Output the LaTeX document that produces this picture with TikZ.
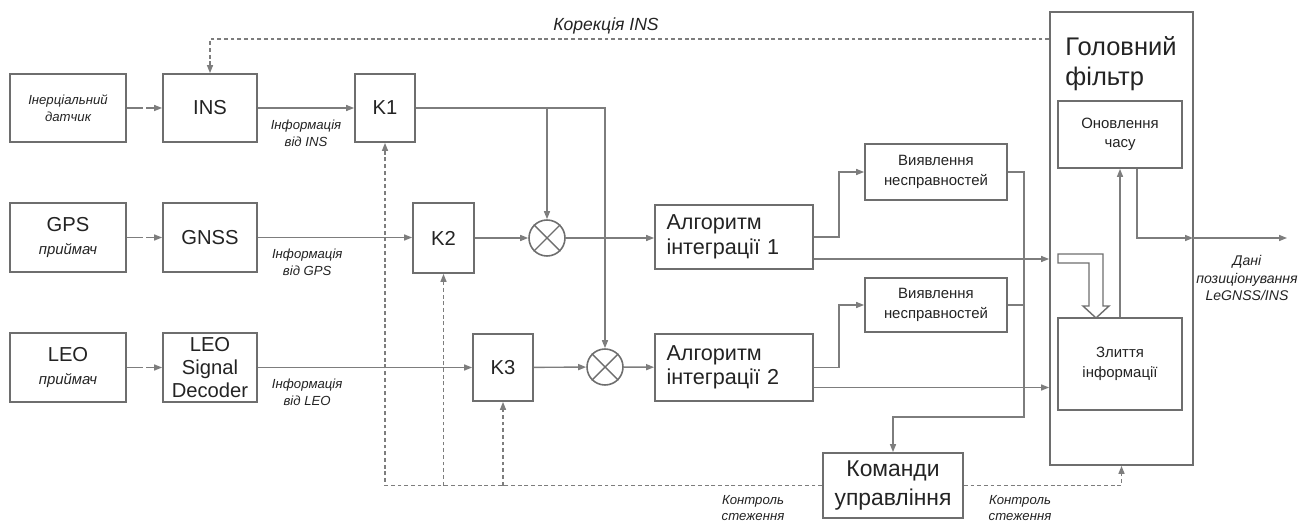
\documentclass[tikz,border=0pt]{standalone}
\usepackage{fontspec}
\setmainfont{Liberation Sans}
\usetikzlibrary{arrows.meta,calc}
\definecolor{ln}{RGB}{125,125,125}
\definecolor{bx}{RGB}{110,110,110}
\definecolor{tx}{RGB}{35,35,35}
\tikzset{
    blk/.style={rectangle, draw=bx, line width=1pt, text=tx, align=center, inner sep=1pt, font=\fontsize{11.5}{13}\selectfont},
    sblk/.style={blk, font=\fontsize{8.5}{11}\selectfont},
    mix/.style={circle, draw=bx, line width=0.9pt, minimum size=7.2mm, inner sep=0pt},
    flow/.style={draw=ln, line width=0.8pt, -{Triangle[length=1.6mm,width=1.2mm]}},
    feed/.style={flow, dash pattern=on 9pt off 2pt},
    ctrl/.style={flow, dash pattern=on 2.2pt off 1.6pt},
    lbl/.style={font=\fontsize{7.5}{9.5}\selectfont\itshape, text=tx, align=center}
}

\begin{document}
\begin{tikzpicture}[x=0.2mm, y=-0.2mm]
    \useasboundingbox (0,0) rectangle (1312,522);

    \node[blk, minimum width=23.2mm, minimum height=13.6mm, font=\fontsize{7.5}{9.6}\selectfont\itshape] (sens) at (68,108) {Інерціальний\\датчик};
    \node[blk, minimum width=18.8mm, minimum height=13.6mm] (ins) at (210,108) {INS};
    \node[blk, minimum width=12mm, minimum height=13.6mm] (k1) at (385,108) {K1};

    \node[blk, minimum width=23.2mm, minimum height=13.8mm] (gps) at (68,237.5) {GPS\\\fontsize{8.5}{11}\selectfont\itshape приймач};
    \node[blk, minimum width=18.8mm, minimum height=13.8mm] (gnss) at (210,237.5) {GNSS};
    \node[blk, minimum width=12.2mm, minimum height=14mm] (k2) at (443.5,238) {K2};

    \node[blk, minimum width=23.2mm, minimum height=13.8mm] (leo) at (68,367.5) {LEO\\\fontsize{8.5}{11}\selectfont\itshape приймач};
    \node[blk, minimum width=18.8mm, minimum height=13.8mm] (dec) at (210,367.5) {LEO\\Signal\\Decoder};
    \node[blk, minimum width=12mm, minimum height=13.4mm] (k3) at (503,367.5) {K3};

    \node[mix] (m1) at (547,238) {};
    \node[mix] (m2) at (605,367) {};
    \foreach \m in {m1,m2}
        \draw[bx, line width=0.8pt] (\m.north west) -- (\m.south east) (\m.north east) -- (\m.south west);

    \node[blk, minimum width=31.6mm, minimum height=12.8mm, text width=27mm, align=left, font=\fontsize{12.3}{14}\selectfont] (alg1) at (734,237) {Алгоритм\\інтеграції 1};
    \node[blk, minimum width=31.6mm, minimum height=13.4mm, text width=27mm, align=left, font=\fontsize{12.3}{14}\selectfont] (alg2) at (734,367.5) {Алгоритм\\інтеграції 2};
    \node[sblk, minimum width=28.4mm, minimum height=11.2mm] (fd1) at (936,172) {Виявлення\\несправностей};
    \node[sblk, minimum width=28.4mm, minimum height=10.8mm] (fd2) at (936,305) {Виявлення\\несправностей};
    \node[blk, minimum width=28mm, minimum height=13mm, font=\fontsize{13}{16}\selectfont] (cmd) at (893,485.5) {Команди\\управління};

    \node[blk, minimum width=28.6mm, minimum height=90.6mm] (main) at (1121.5,238.5) {};
    \node[font=\fontsize{14.5}{17}\selectfont, text=tx, align=left] (mtitle) at (1121,64) {Головний\\фільтр};
    \node[sblk, minimum width=24.8mm, minimum height=13.4mm] (upd) at (1120,134.5) {Оновлення\\часу};
    \node[sblk, minimum width=24.8mm, minimum height=18.4mm] (fuse) at (1120,364) {Злиття\\інформації};

    \draw[feed] (sens) -- (ins);
    \draw[feed] (gps) -- (gnss);
    \draw[feed] (leo) -- (dec);
    \draw[flow] (ins) -- node[lbl, below=3pt] {Інформація\\від INS} (k1);
    \draw[flow] (gnss.east) -- node[lbl, pos=0.32, below=3pt] {Інформація\\від GPS} (gnss.east -| k2.west);
    \draw[flow] (dec) -- node[lbl, pos=0.23, below=3pt] {Інформація\\від LEO} (k3);

    \draw[flow] (k1.east) -| (m2.north);
    \draw[flow] (k1.east -| m1.north) -- (m1.north);
    \draw[flow] (k2.east) -- (k2.east -| m1.west);
    \draw[flow] (m1.east) -- (m1.east -| alg1.west);
    \draw[flow] (k3) -- (m2);
    \draw[flow] (m2) -- (alg2);

    \draw[flow] (alg1.east) -- ++(25,0) |- (fd1.west);
    \draw[flow] (alg2.east) -- ++(25,0) |- (fd2.west);
    \draw[flow] ($(alg1.east)+(0,22)$) coordinate (a1) -- (a1 -| main.west);
    \draw[flow] ($(alg2.east)+(0,20)$) coordinate (a2) -- (a2 -| main.west);
    \draw[flow] (fd1.east) -- ++(16,0) -- ++(0,245) -| (cmd.north);
    \draw[draw=ln, line width=0.8pt] (fd2.east) -- ++(16,0);

    \draw[bx, line width=0.8pt, fill=white] (1058,254) -- (1103,254) -- (1103,306) -- (1109,306) -- (1096,318) -- (1083,306) -- (1089,306) -- (1089,263) -- (1058,263) -- cycle;
    \draw[flow] (fuse.north) -- (upd.south);
    \coordinate (mout) at (1193,238);
    \coordinate (pos) at (1287,238);
    \draw[flow] ([xshift=3.4mm]upd.south) |- (mout);
    \draw[flow] (mout) -- (pos);
    \node[lbl, font=\fontsize{8}{10}\selectfont\itshape] (poslbl) at (1247,278) {Дані\\позиціонування\\LeGNSS/INS};

    \draw[ctrl] ($(main.north west)+(0,28)$) coordinate (c0) -| (ins.north);
    \node[lbl, font=\fontsize{10}{12}\selectfont\itshape] (corlbl) at (606,26) {Корекція INS};
    \draw[ctrl] (cmd.west) -| (k1.south);
    \draw[ctrl] (cmd.west -| k2.south) -- (k2.south);
    \draw[ctrl] (cmd.west -| k3.south) -- (k3.south);
    \draw[ctrl] (cmd.east) -| (main.south);
    \node[lbl] (ctl1) at (753,508) {Контроль\\стеження};
    \node[lbl] (ctl2) at (1020,508) {Контроль\\стеження};
\end{tikzpicture}
\end{document}
